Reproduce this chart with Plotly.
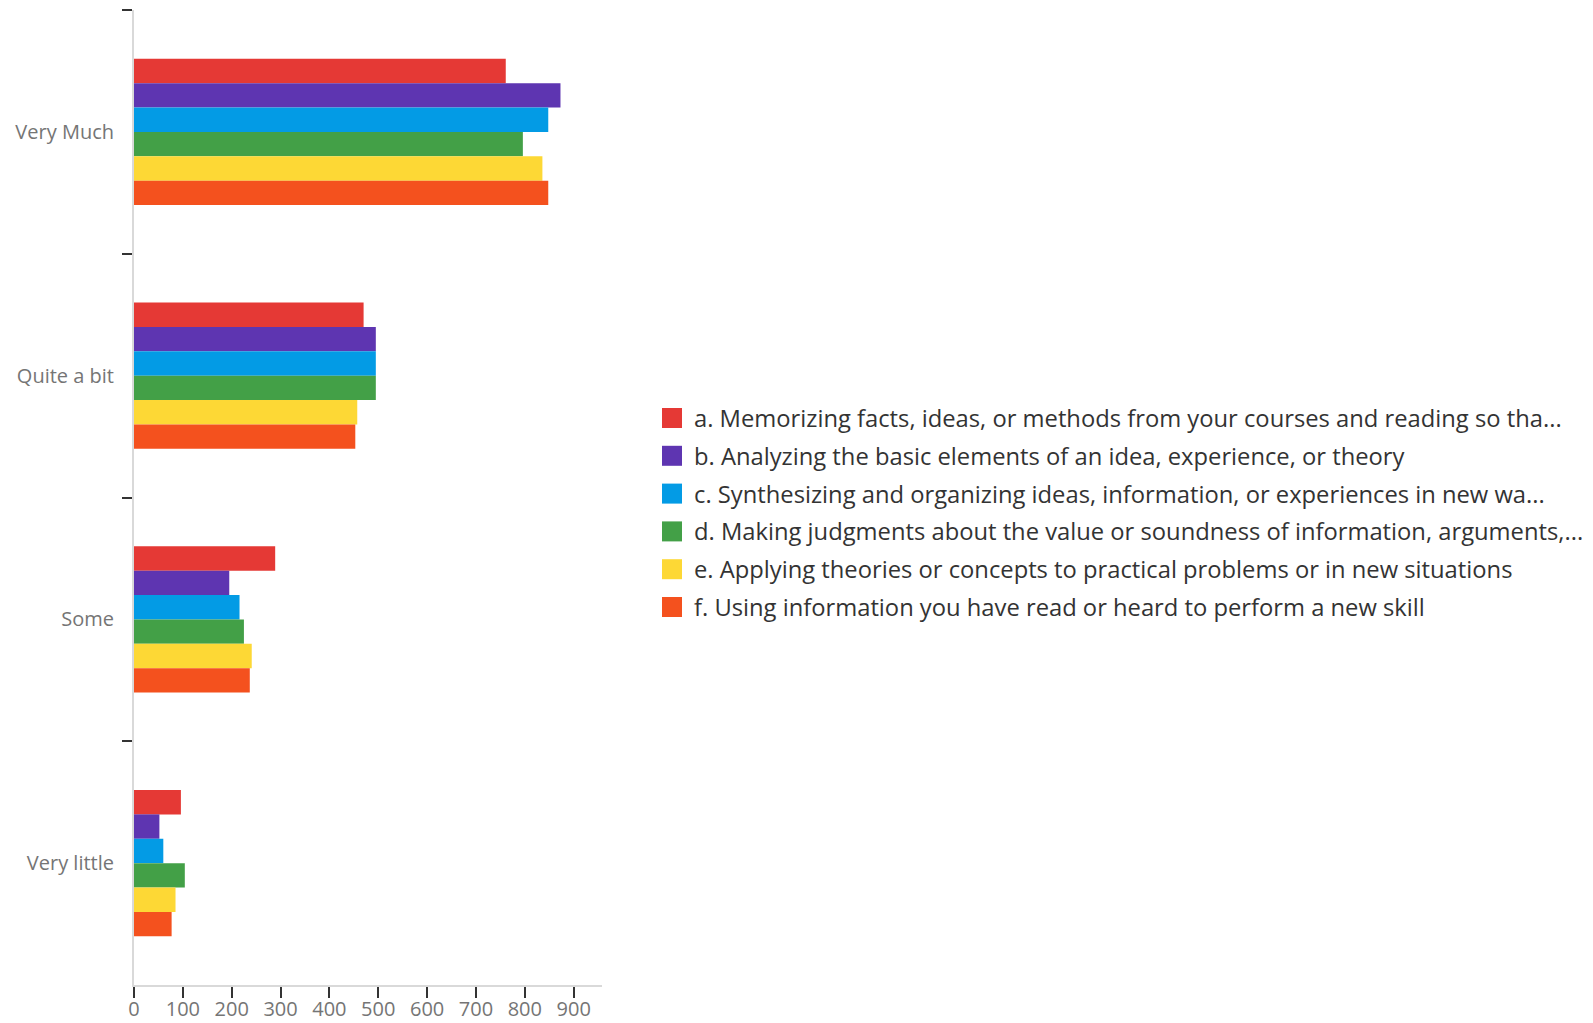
import plotly.graph_objects as go

categories = ["Very Much", "Quite a bit", "Some", "Very little"]

series_names = [
    "a. Memorizing facts, ideas, or methods from your courses and reading so tha...",
    "b. Analyzing the basic elements of an idea, experience, or theory",
    "c. Synthesizing and organizing ideas, information, or experiences in new wa...",
    "d. Making judgments about the value or soundness of information, arguments,...",
    "e. Applying theories or concepts to practical problems or in new situations",
    "f. Using information you have read or heard to perform a new skill",
]

a_values = [761, 470, 289, 96]
b_values = [873, 495, 195, 52]
c_values = [848, 495, 216, 60]
d_values = [796, 495, 225, 104]
e_values = [836, 457, 241, 85]
f_values = [848, 453, 237, 77]

series_values = [a_values, b_values, c_values, d_values, e_values, f_values]
colors = ["#E53935", "#5E35B1", "#039BE5", "#43A047", "#FDD835", "#F4511E"]

x_ticks = [0, 100, 200, 300, 400, 500, 600, 700, 800, 900]

# layout constants (pixels)
W, H = 1593, 1023
L, R, T, B = 134, 991, 10, 38
PW, PH = W - L - R, H - T - B

fig = go.Figure()
for name, vals, col in zip(series_names, series_values, colors):
    fig.add_trace(go.Bar(
        y=categories, x=vals, name=name, orientation="h",
        marker=dict(color=col, line=dict(width=0)),
        showlegend=False,
    ))

# legend drawn as colour squares + text
sym_left_px = 662
text_left_px = 692
first_row_px = 418
row_step_px = 37.8
for k, (name, col) in enumerate(zip(series_names, colors)):
    ypix = first_row_px + k * row_step_px
    yp = (H - B - ypix) / PH
    fig.add_shape(type="rect", xref="paper", yref="paper",
                  xsizemode="pixel", ysizemode="pixel",
                  xanchor=(sym_left_px - L) / PW, yanchor=yp,
                  x0=0, x1=20, y0=-10, y1=10,
                  fillcolor=col, line=dict(width=0))
    fig.add_annotation(xref="paper", yref="paper",
                       x=(text_left_px - L) / PW, y=yp,
                       xanchor="left", yanchor="middle", showarrow=False,
                       text=name, font=dict(family="Open Sans", size=23.75, color="#333333"))

fig.update_layout(
    width=W, height=H,
    barmode="group", bargap=0.4, bargroupgap=0,
    plot_bgcolor="white", paper_bgcolor="white",
    margin=dict(l=L, r=R, t=T, b=B, autoexpand=False),
    font=dict(family="Open Sans", color="#757575", size=20),
    showlegend=False,
    xaxis=dict(
        range=[0, 958], tickvals=x_ticks, ticktext=[str(v) for v in x_ticks],
        showgrid=False, zeroline=False, showline=True, linecolor="#d9d9d9", linewidth=2,
        ticks="outside", ticklen=11, tickcolor="#333333", tickwidth=2,
        ticklabelstandoff=-6,
        tickfont=dict(size=20, color="#757575"), automargin=False,
    ),
    yaxis=dict(
        categoryorder="array", categoryarray=categories, autorange="reversed",
        showgrid=False, zeroline=False, showline=True, linecolor="#d9d9d9", linewidth=2,
        ticks="outside", ticklen=10, tickcolor="#333333", tickwidth=2,
        tickson="boundaries", ticklabelstandoff=14,
        tickfont=dict(size=20, color="#757575"), automargin=False,
    ),
)

fig.write_html("out.html", config={"displayModeBar": False},
               post_script="document.body.style.margin='0px';")
